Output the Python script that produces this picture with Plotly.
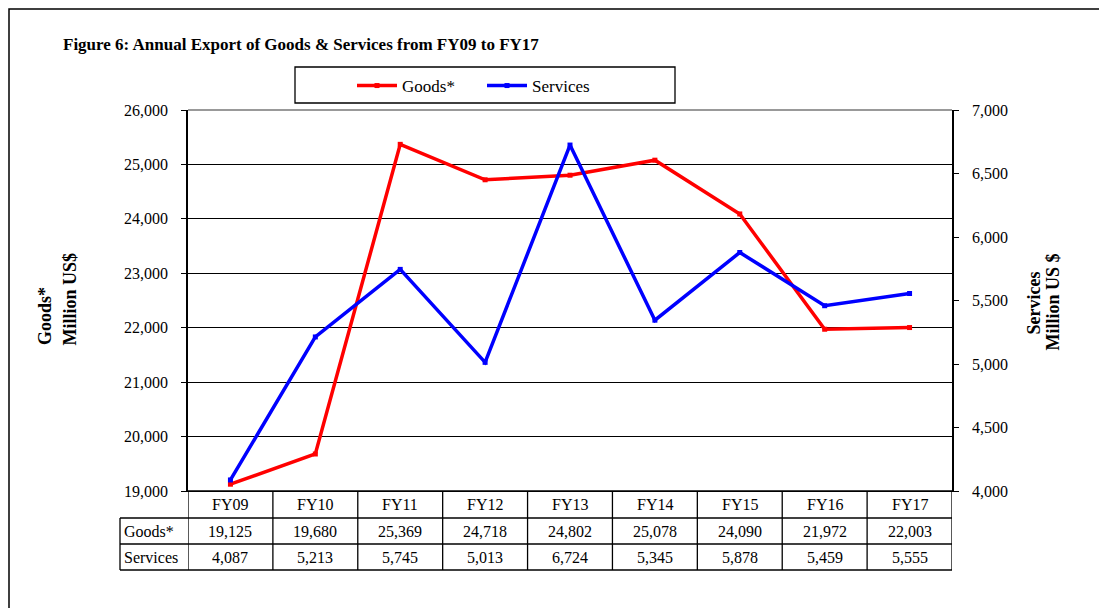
import plotly.graph_objects as go

years = ["FY09", "FY10", "FY11", "FY12", "FY13", "FY14", "FY15", "FY16", "FY17"]
goods = [19125, 19680, 25369, 24718, 24802, 25078, 24090, 21972, 22003]
services = [4087, 5213, 5745, 5013, 6724, 5345, 5878, 5459, 5555]

FONT = "Liberation Serif"
OFF = 8                      # page body margin
W, H = 1107 - OFF, 608 - OFF
L, R, T, B = 188, 952, 110, 491   # plot area in screen pixels


def px(x):
    return (x - L) / (R - L)


def py(y):
    return (B - y) / (B - T)


fig = go.Figure()

fig.add_trace(go.Scatter(
    x=years, y=goods, name="Goods*", mode="lines+markers",
    line=dict(color="#ff0000", width=3.5),
    marker=dict(symbol="square", size=5, color="#ff0000"),
))
fig.add_trace(go.Scatter(
    x=years, y=services, name="Services", mode="lines+markers", yaxis="y2",
    line=dict(color="#0000ff", width=3.5),
    marker=dict(symbol="square", size=5, color="#0000ff"),
))

line_k = dict(color="black", width=1.3)
shapes = []
# outer frame (cut off at right / bottom like the source)
shapes.append(dict(type="rect", xref="paper", yref="paper",
                   x0=px(9), x1=px(1130), y0=py(9), y1=py(640),
                   line=dict(color="black", width=1.5), layer="below"))
# gray top border of plot area
shapes.append(dict(type="line", xref="paper", yref="paper",
                   x0=0, x1=1, y0=1, y1=1, line=dict(color="#999999", width=2)))
# legend box
shapes.append(dict(type="rect", xref="paper", yref="paper",
                   x0=px(295), x1=px(675), y0=py(67), y1=py(103),
                   line=dict(color="black", width=1.3)))

# data table grid
row_y = [491, 518, 544, 570]
for i, yy in enumerate(row_y):
    shapes.append(dict(type="line", xref="paper", yref="paper",
                       x0=px(120) if i > 0 else 0, x1=1,
                       y0=py(yy), y1=py(yy), line=line_k))
for k in range(len(years) + 1):
    shapes.append(dict(type="line", xref="x", yref="paper",
                       x0=k - 0.5, x1=k - 0.5, y0=py(491), y1=py(570), line=line_k))
shapes.append(dict(type="line", xref="paper", yref="paper",
                   x0=px(120), x1=px(120), y0=py(518), y1=py(570), line=line_k))

annotations = []
cell_font = dict(family=FONT, size=16, color="black")
for i, yr in enumerate(years):
    for yy, txt in ((504.5, yr), (531, f"{goods[i]:,}"), (557, f"{services[i]:,}")):
        annotations.append(dict(x=yr, y=py(yy), xref="x", yref="paper", text=txt,
                                xanchor="center", yanchor="middle",
                                showarrow=False, font=cell_font))
for yy, txt in ((531, "Goods*"), (557, "Services")):
    annotations.append(dict(x=px(122), y=py(yy), xref="paper", yref="paper", text=txt,
                            xanchor="left", yanchor="middle", showarrow=False,
                            font=cell_font))

# title
annotations.append(dict(x=px(61), y=py(45), xref="paper", yref="paper",
                        text="<b>Figure 6: Annual Export of Goods & Services from FY09 to FY17</b>",
                        xanchor="left", yanchor="middle", showarrow=False,
                        font=dict(family=FONT, size=17, color="black")))
# axis titles (rotated, text starts at the bottom)
title_font = dict(family=FONT, size=18, color="black")
for xx, yy, txt in ((45, 347, "Goods*"), (69, 347, "Million US$"),
                    (1033, 337, "Services"), (1052, 353, "Million US $")):
    annotations.append(dict(x=px(xx), y=py(yy), xref="paper", yref="paper",
                            text=f"<b>{txt}</b>", textangle=-90,
                            xanchor="center", yanchor="bottom",
                            showarrow=False, font=title_font))

fig.update_layout(
    width=W, height=H,
    margin=dict(l=L - OFF, r=W - (R - OFF), t=T - OFF, b=H - (B - OFF), pad=0),
    paper_bgcolor="white", plot_bgcolor="white",
    font=dict(family=FONT, size=16, color="black"),
    xaxis=dict(type="category", range=[-0.5, len(years) - 0.5],
               showticklabels=False, ticks="", showgrid=False,
               showline=True, linecolor="black", linewidth=1.3, zeroline=False),
    yaxis=dict(range=[19000, 26000], dtick=1000, tickformat=",",
               showgrid=True, gridcolor="black", gridwidth=1,
               showline=True, linecolor="black", linewidth=1.5,
               ticks="outside", ticklen=5, tickcolor="black",
               ticklabelstandoff=10, zeroline=False,
               tickfont=dict(family=FONT, size=16)),
    yaxis2=dict(range=[4000, 7000], dtick=500, tickformat=",", overlaying="y",
                side="right", showgrid=False,
                showline=True, linecolor="black", linewidth=1.5,
                ticks="outside", ticklen=5, tickcolor="black",
                ticklabelstandoff=10, zeroline=False,
                tickfont=dict(family=FONT, size=16)),
    showlegend=True,
    legend=dict(orientation="h", x=px(352), y=py(86), xanchor="left", yanchor="middle",
                bgcolor="rgba(0,0,0,0)", borderwidth=0, entrywidth=75,
                itemwidth=40, font=dict(family=FONT, size=17, color="black")),
    shapes=shapes,
    annotations=annotations,
)

fig.write_html("out.html")
